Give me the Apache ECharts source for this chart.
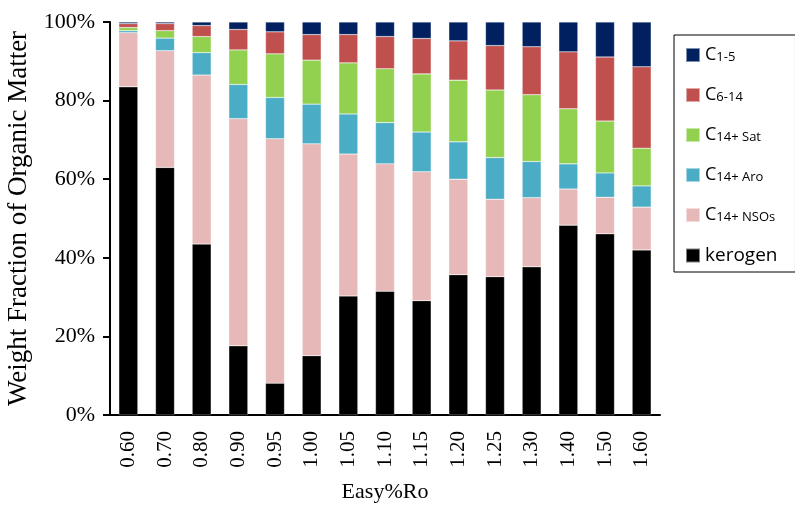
<!DOCTYPE html>
<html>
<head>
<meta charset="utf-8">
<script src="https://cdn.jsdelivr.net/npm/echarts@6/dist/echarts.min.js"></script>
<style>
  html, body { margin: 0; padding: 0; background: #fff; }
  #chart { width: 795px; height: 505px; }
</style>
</head>
<body>
<div id="chart"></div>
<script>
// Easy%Ro levels
var ro = ['0.60','0.70','0.80','0.90','0.95','1.00','1.05','1.10','1.15','1.20','1.25','1.30','1.40','1.50','1.60'];

// weight fraction (%) of each component
var kerogen = [83.5, 63.0, 43.5, 17.6, 8.1, 15.1, 30.3, 31.5, 29.1, 35.7, 35.2, 37.7, 48.3, 46.1, 42.0];
var nsos    = [13.8, 29.7, 43.0, 57.8, 62.2, 53.9, 36.1, 32.4, 32.8, 24.3, 19.7, 17.6, 9.2, 9.3, 10.9];
var aro     = [0.5, 3.2, 5.7, 8.7, 10.5, 10.1, 10.2, 10.5, 10.1, 9.5, 10.6, 9.2, 6.4, 6.2, 5.4];
var sat     = [0.8, 1.9, 4.1, 8.8, 11.1, 11.2, 13.0, 13.7, 14.8, 15.7, 17.2, 17.0, 14.0, 13.2, 9.6];
var c614    = [1.0, 1.8, 2.8, 5.2, 5.6, 6.5, 7.2, 8.2, 9.0, 10.0, 11.3, 12.2, 14.5, 16.3, 20.7];
var c15     = [0.4, 0.4, 0.9, 1.9, 2.5, 3.2, 3.2, 3.7, 4.2, 4.8, 6.0, 6.3, 7.6, 8.9, 11.4];

var yTicks = [0, 20, 40, 60, 80, 100];

var chart = echarts.init(document.getElementById('chart'));

function bar(name, data, color) {
    return {
        name: name,
        type: 'bar',
        stack: 'total',
        barWidth: 19,
        data: data,
        itemStyle: { color: color, borderColor: 'rgba(255,255,255,0.5)', borderWidth: 0.5 }
    };
}

var serif = '"Liberation Serif", "DejaVu Serif", serif';
var sans = '"Open Sans", "Liberation Sans", sans-serif';

var option = {
    backgroundColor: '#fff',
    animation: false,
    grid: { left: 110, right: 135, top: 22, bottom: 90, outerBoundsMode: 'none' },
    legend: {
        orient: 'vertical',
        left: 674,
        top: 35,
        padding: [11, 18, 7, 11],
        borderColor: '#000',
        borderWidth: 1,
        itemWidth: 14,
        itemHeight: 14,
        itemGap: 22,
        icon: 'rect',
        data: ['C1-5', 'C6-14', 'C14+ Sat', 'C14+ Aro', 'C14+ NSOs', 'kerogen'],
        formatter: function (name) {
            if (name === 'kerogen') return '{k|kerogen}';
            return '{c|C}{s|' + name.substring(1) + '}';
        },
        textStyle: {
            fontFamily: sans,
            color: '#000',
            rich: {
                c: { fontSize: 18, fontFamily: sans, color: '#000', height: 19 },
                s: { fontSize: 13, fontFamily: sans, color: '#000', verticalAlign: 'bottom', padding: [4, 0, 0, 0], height: 19 },
                k: { fontSize: 19, fontFamily: sans, color: '#000', height: 19 }
            }
        }
    },
    xAxis: {
        type: 'category',
        data: ro,
        name: 'Easy%Ro',
        nameLocation: 'middle',
        nameGap: 66,
        nameTextStyle: { fontFamily: serif, fontSize: 22, color: '#000' },
        axisLine: { lineStyle: { color: '#000', width: 2 } },
        axisTick: { show: false },
        axisLabel: { rotate: 90, margin: 16, fontFamily: serif, fontSize: 21, color: '#000' }
    },
    yAxis: {
        type: 'value',
        min: 0,
        max: 100,
        interval: 20,
        name: 'Weight Fraction of Organic Matter',
        nameLocation: 'middle',
        nameGap: 72,
        nameTextStyle: { fontFamily: serif, fontSize: 27, color: '#000' },
        splitLine: { show: false },
        axisLine: { show: true, lineStyle: { color: '#000', width: 2 } },
        axisTick: { show: true, length: 7, lineStyle: { color: '#000', width: 2 } },
        axisLabel: {
            margin: 15,
            fontFamily: serif,
            fontSize: 22,
            color: '#000',
            formatter: function (v) { return yTicks.indexOf(v) >= 0 ? v + '%' : ''; }
        }
    },
    series: [
        bar('kerogen', kerogen, '#000000'),
        bar('C14+ NSOs', nsos, '#e6b8b7'),
        bar('C14+ Aro', aro, '#4bacc6'),
        bar('C14+ Sat', sat, '#92d050'),
        bar('C6-14', c614, '#c0504d'),
        bar('C1-5', c15, '#002060')
    ]
};

chart.setOption(option);
</script>
</body>
</html>
